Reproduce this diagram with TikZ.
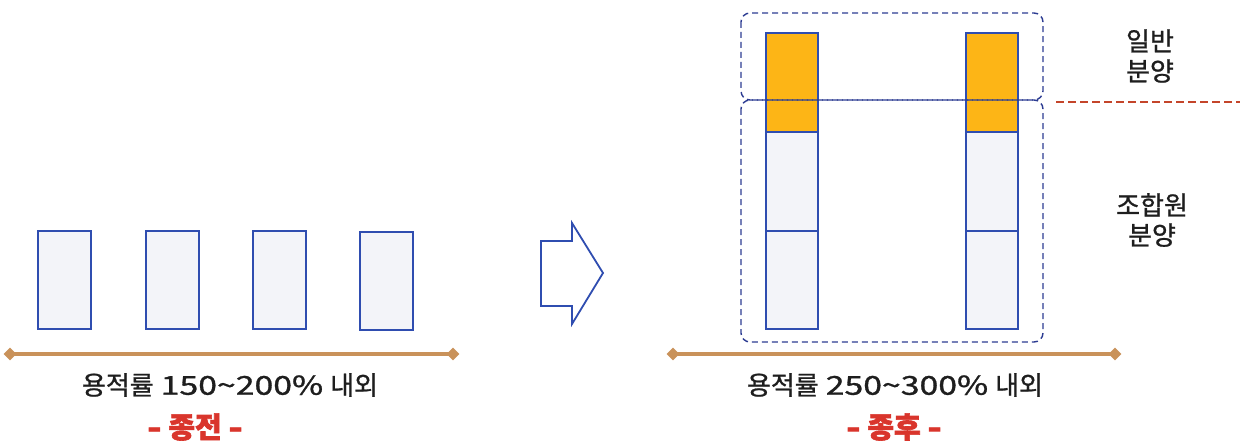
\documentclass[tikz,border=0pt]{standalone}
\usepackage{fontspec}
\usepackage{graphicx}
\newfontfamily\kr{Noto Sans CJK KR}[FakeBold=0.9]
\newfontfamily\krheavy{Noto Sans CJK KR}[FakeBold=2.2]
\usetikzlibrary{shapes.geometric}
\definecolor{bldgblue}{HTML}{2F4DB0}
\definecolor{bldgfill}{HTML}{F3F4F9}
\definecolor{amber}{HTML}{FDB516}
\definecolor{zoneblue}{HTML}{2C3C92}
\definecolor{groundtan}{HTML}{C9925A}
\definecolor{textgray}{HTML}{1E1E1E}
\definecolor{stagered}{HTML}{D9352C}
\definecolor{sepred}{HTML}{C4452A}
\tikzset{
  bldg/.style={draw=bldgblue, line width=1.9pt, fill=bldgfill},
  upper/.style={draw=bldgblue, line width=1.9pt, fill=amber},
  zone/.style={draw=zoneblue, line width=1.4pt, dash pattern=on 6pt off 4pt, rounded corners=9pt},
  ground/.style={draw=groundtan, line width=3.4pt},
  groundend/.style={fill=groundtan, draw=none, diamond, minimum width=13pt, minimum height=13pt, inner sep=0pt},
  caption/.style={text=textgray, font=\kr\fontsize{26}{30}\selectfont, inner sep=0pt},
  side/.style={text=textgray, font=\kr\fontsize{26}{30}\selectfont, align=center, inner sep=0pt},
  stage/.style={text=stagered, font=\krheavy\bfseries\fontsize{29}{32}\selectfont, inner sep=0pt}
}
% wide numerals inside the captions
\newcommand{\widenum}[1]{\scalebox{1.3}[1]{#1}}
\begin{document}
\begin{tikzpicture}[x=1pt,y=-1pt]
\useasboundingbox (0,0) rectangle (1240,441);

% ---- before: four low-rise buildings ----
\draw[bldg] (38,231) rectangle (91,329);
\draw[bldg] (146,231) rectangle (199,329);
\draw[bldg] (253,231) rectangle (306,329);
\draw[bldg] (360,232) rectangle (413,330);

\node[groundend] (gl1) at (10,354) {};
\node[groundend] (gl2) at (453,354) {};
\draw[ground] (gl1.center) -- (gl2.center);

\node[caption] (capA) at (230,385) {용적률\hspace{7pt}\widenum{150{\char"7E}200\%}\hspace{7pt}내외};
\node[stage] (stA) at (195,427) {\widenum{-} 종전 \widenum{-}};

% ---- transition arrow ----
\draw[bldgblue, line width=1.8pt, line join=miter]
  (541,241) -- (572,241) -- (572,223) -- (603,273) -- (572,324) -- (572,306) -- (541,306) -- cycle;

% ---- after: two high-rise buildings ----
\foreach \x in {766,966}{
  \draw[bldg] (\x,231) rectangle ++(52,98);
  \draw[bldg] (\x,132) rectangle ++(52,99);
  \draw[upper] (\x,33) rectangle ++(52,99);
}

% sale zones
\draw[zone] (741,13) rectangle (1043,100);
\draw[zone] (741,100) rectangle (1043,342);
\draw[sepred, line width=1.8pt, dash pattern=on 8pt off 4pt] (1056,102) -- (1240,102);

\node[side] (gen) at (1150,56) {일반\\분양};
\node[side] (mem) at (1152,220) {조합원\\분양};

\node[groundend] (gr1) at (673,354) {};
\node[groundend] (gr2) at (1115,354) {};
\draw[ground] (gr1.center) -- (gr2.center);

\node[caption] (capB) at (895,385) {용적률\hspace{7pt}\widenum{250{\char"7E}300\%}\hspace{7pt}내외};
\node[stage] (stB) at (894,427) {\widenum{-} 종후 \widenum{-}};
\end{tikzpicture}
\end{document}
